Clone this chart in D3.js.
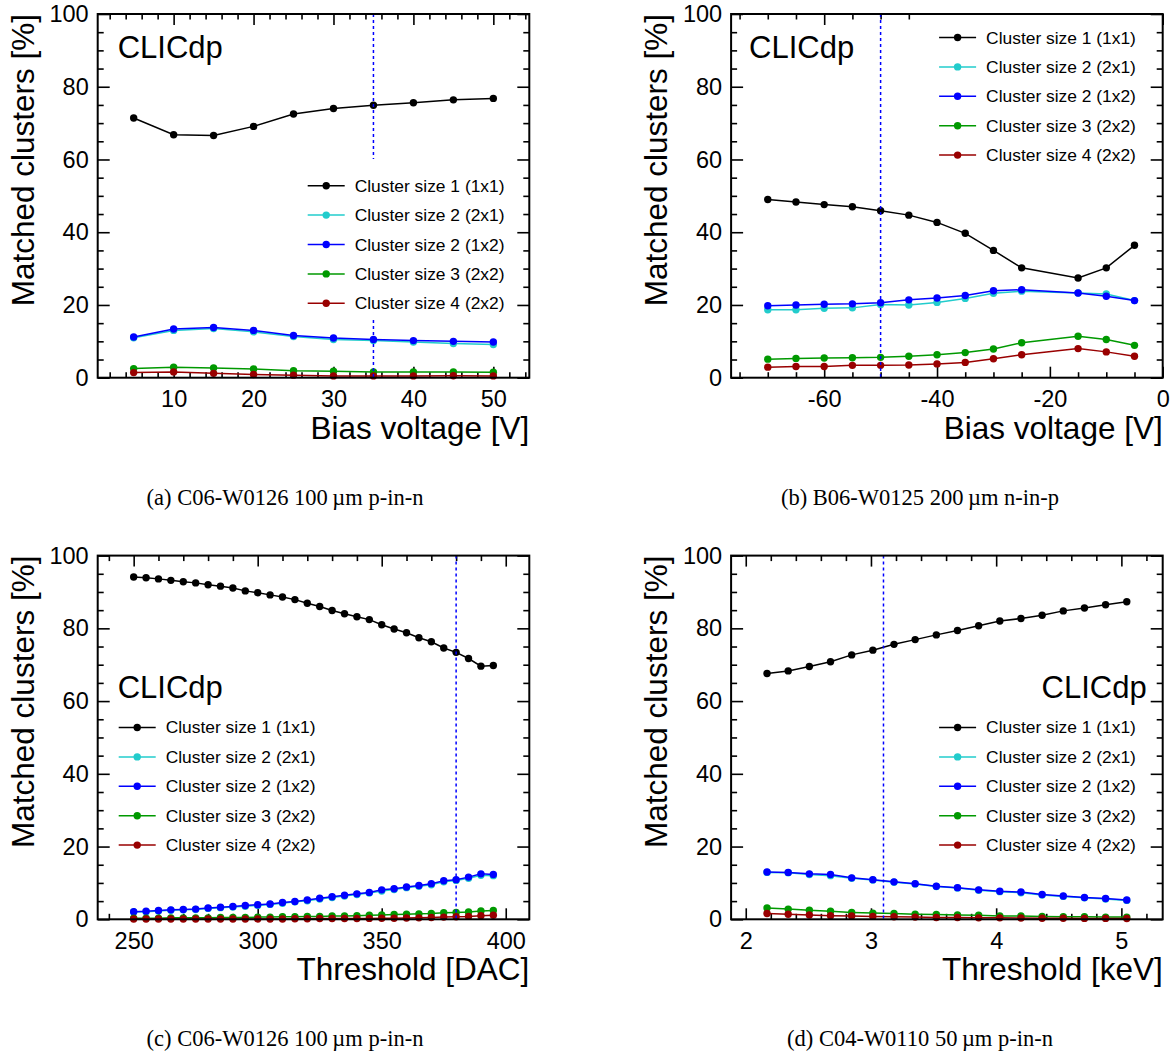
<!DOCTYPE html>
<html>
<head>
<meta charset="utf-8">
<script src="https://cdn.jsdelivr.net/npm/d3@7/dist/d3.min.js"></script>
<style>
  body { margin: 0; background: #fff; }
  svg { display: block; }
</style>
</head>
<body>
<svg id="fig" width="1174" height="1055"></svg>
<script>
// ---- series definitions shared by all four panels ----
const seriesNames = ["Cluster size 1 (1x1)", "Cluster size 2 (2x1)", "Cluster size 2 (1x2)",
                     "Cluster size 3 (2x2)", "Cluster size 4 (2x2)"];
const seriesColors = ["#000000", "#22cccc", "#0000ff", "#009900", "#990000"];

// ---- (a) C06-W0126, bias scan ----
const biasA = [5, 10, 15, 20, 25, 30, 35, 40, 45, 50];
const aSize1   = [71.4, 66.8, 66.6, 69.1, 72.5, 74.0, 74.9, 75.6, 76.4, 76.8];
const aSize2x1 = [11.0, 13.0, 13.5, 12.6, 11.3, 10.5, 10.2, 9.8, 9.4, 9.1];
const aSize1x2 = [11.2, 13.4, 13.8, 13.0, 11.6, 10.9, 10.5, 10.2, 10.0, 9.8];
const aSize3   = [2.5, 2.9, 2.7, 2.4, 1.9, 1.8, 1.6, 1.6, 1.6, 1.5];
const aSize4   = [1.4, 1.6, 1.2, 0.9, 0.7, 0.5, 0.5, 0.5, 0.55, 0.5];
const ticksA = [10, 20, 30, 40, 50];

// ---- (b) B06-W0125, bias scan ----
const biasB = [-70, -65, -60, -55, -50, -45, -40, -35, -30, -25, -15, -10, -5];
const bSize1   = [49.0, 48.3, 47.6, 47.0, 45.9, 44.7, 42.7, 39.7, 35.0, 30.2, 27.4, 30.2, 36.4];
const bSize2x1 = [18.7, 18.7, 19.1, 19.2, 20.1, 20.0, 20.7, 21.8, 23.2, 23.8, 23.3, 23.0, 21.2];
const bSize1x2 = [19.8, 20.0, 20.2, 20.3, 20.6, 21.4, 21.9, 22.6, 23.9, 24.2, 23.3, 22.4, 21.2];
const bSize3   = [5.1, 5.3, 5.4, 5.5, 5.6, 5.9, 6.3, 6.9, 7.9, 9.6, 11.4, 10.5, 8.9];
const bSize4   = [2.9, 3.1, 3.1, 3.4, 3.4, 3.5, 3.8, 4.2, 5.2, 6.3, 8.0, 7.1, 5.9];
const ticksB = [-60, -40, -20, 0];

// ---- (c) C06-W0126, threshold scan in DAC ----
const dacC = [250, 255, 260, 265, 270, 275, 280, 285, 290, 295, 300, 305, 310, 315, 320,
              325, 330, 335, 340, 345, 350, 355, 360, 365, 370, 375, 380, 385, 390, 395];
const cSize1   = [94.1, 93.9, 93.6, 93.2, 92.8, 92.5, 92.0, 91.6, 91.1, 90.3, 89.8, 89.2, 88.6, 87.9, 86.9,
                  86.0, 84.9, 84.0, 83.2, 82.4, 81.0, 79.8, 78.8, 77.4, 76.3, 74.6, 73.4, 71.7, 69.6, 69.8];
const cSize2x1 = [2.0, 2.1, 2.3, 2.5, 2.6, 2.7, 3.0, 3.2, 3.4, 3.6, 3.8, 4.1, 4.4, 4.8, 5.1,
                  5.6, 6.0, 6.4, 6.8, 7.2, 7.8, 8.2, 8.7, 9.1, 9.5, 10.3, 10.7, 11.3, 12.1, 12.0];
const cSize1x2 = [2.1, 2.2, 2.4, 2.6, 2.7, 2.8, 3.1, 3.3, 3.5, 3.8, 4.0, 4.2, 4.6, 4.9, 5.3,
                  5.8, 6.2, 6.6, 7.0, 7.4, 8.1, 8.4, 8.9, 9.3, 9.8, 10.6, 10.9, 11.6, 12.5, 12.3];
const cSize3   = [0.3, 0.3, 0.3, 0.4, 0.4, 0.4, 0.4, 0.5, 0.5, 0.5, 0.6, 0.6, 0.7, 0.7, 0.8,
                  0.8, 0.9, 0.9, 1.0, 1.1, 1.2, 1.3, 1.4, 1.5, 1.6, 1.8, 1.9, 2.0, 2.3, 2.4];
const cSize4   = [0.1, 0.1, 0.1, 0.1, 0.1, 0.1, 0.1, 0.1, 0.1, 0.1, 0.1, 0.1, 0.1, 0.15, 0.15,
                  0.2, 0.2, 0.2, 0.2, 0.25, 0.3, 0.3, 0.35, 0.4, 0.5, 0.6, 0.7, 0.8, 1.0, 1.1];
const ticksC = [250, 300, 350, 400];

// ---- (d) C04-W0110, threshold scan in keV ----
const keVD = [2.170, 2.339, 2.508, 2.677, 2.846, 3.015, 3.184, 3.353, 3.522,
              3.691, 3.860, 4.029, 4.198, 4.367, 4.536, 4.705, 4.874, 5.043];
const dSize1   = [67.6, 68.3, 69.5, 70.8, 72.7, 74.0, 75.6, 76.9, 78.2,
                  79.4, 80.7, 82.0, 82.7, 83.6, 84.8, 85.6, 86.5, 87.3];
const dSize2x1 = [12.9, 12.8, 12.3, 12.0, 11.3, 10.8, 10.2, 9.7, 9.0,
                  8.6, 8.0, 7.6, 7.3, 6.7, 6.3, 5.9, 5.6, 5.2];
const dSize1x2 = [13.0, 12.9, 12.5, 12.3, 11.4, 10.9, 10.3, 9.8, 9.1,
                  8.7, 8.1, 7.7, 7.5, 6.8, 6.4, 6.0, 5.7, 5.3];
const dSize3   = [3.1, 2.8, 2.5, 2.2, 1.9, 1.7, 1.6, 1.4, 1.3,
                  1.2, 1.1, 0.9, 0.9, 0.8, 0.7, 0.7, 0.6, 0.6];
const dSize4   = [1.6, 1.4, 1.2, 1.0, 0.9, 0.8, 0.7, 0.6, 0.5,
                  0.5, 0.4, 0.4, 0.35, 0.3, 0.3, 0.25, 0.25, 0.2];
const ticksD = [2, 3, 4, 5];

const yTicks = [0, 20, 40, 60, 80, 100];

// ---- panel layout ----
const FW = 431.6, FH = 363.7;
const panels = [
  { left: 97.7, top: 14, x: biasA, ys: [aSize1, aSize2x1, aSize1x2, aSize3, aSize4],
    domain: [0.5, 54.5], major: ticksA, minorStep: 2, cut: 35,
    xTitle: "Bias voltage [V]", caption: "(a) C06-W0126 100\u2009\u00b5m p-in-n", capX: 285,
    leg: { dx: 210, y0: 185.7 }, clic: { dx: 20, dy: 44, anchor: "start" } },
  { left: 731.1, top: 14, x: biasB, ys: [bSize1, bSize2x1, bSize1x2, bSize3, bSize4],
    domain: [-76.5, 0], major: ticksB, minorStep: 5, cut: -50,
    xTitle: "Bias voltage [V]", caption: "(b) B06-W0125 200\u2009\u00b5m n-in-p", capX: 920,
    leg: { dx: 208, y0: 37.5 }, clic: { dx: 18, dy: 44, anchor: "start" } },
  { left: 97.7, top: 555.6, x: dacC, ys: [cSize1, cSize2x1, cSize1x2, cSize3, cSize4],
    domain: [235.5, 409.5], major: ticksC, minorStep: 10, cut: 380,
    xTitle: "Threshold [DAC]", caption: "(c) C06-W0126 100\u2009\u00b5m p-in-n", capX: 285,
    leg: { dx: 21, y0: 727.5 }, clic: { dx: 20, dy: 142, anchor: "start" } },
  { left: 731.1, top: 555.6, x: keVD, ys: [dSize1, dSize2x1, dSize1x2, dSize3, dSize4],
    domain: [1.883, 5.330], major: ticksD, minorStep: 0.2, cut: 3.1,
    xTitle: "Threshold [keV]", caption: "(d) C04-W0110 50\u2009\u00b5m p-in-n", capX: 920,
    leg: { dx: 208, y0: 727.5 }, clic: { dx: FW - 16, dy: 142, anchor: "end" } }
];

const SANS = "'Liberation Sans', Arial, Helvetica, sans-serif";
const SERIF = "'Liberation Serif', 'Times New Roman', serif";
const svg = d3.select("#fig");

panels.forEach(p => {
  const g = svg.append("g").attr("transform", `translate(${p.left},${p.top})`);
  const x = d3.scaleLinear().domain(p.domain).range([0, FW]);
  const y = d3.scaleLinear().domain([0, 100]).range([FH, 0]);

  // minor tick positions between the domain ends
  const minorX = d3.range(Math.ceil(p.domain[0] / p.minorStep - 1e-6) * p.minorStep,
                          p.domain[1] + 1e-6, p.minorStep)
                   .map(v => +v.toFixed(4))
                   .filter(v => !p.major.some(m => Math.abs(m - v) < 1e-6));
  const minorY = d3.range(5, 100, 5).filter(v => v % 20 !== 0);

  const styleAxis = sel => {
    sel.select(".domain").remove();
    sel.selectAll(".tick line").attr("stroke", "#000").attr("stroke-width", 1.6);
  };
  const fmt = d => String(d);

  // bottom axis with labels, top axis ticks only
  g.append("g").attr("transform", `translate(0,${FH})`)
    .call(d3.axisBottom(x).tickValues(p.major).tickSize(-11).tickPadding(13).tickFormat(fmt))
    .call(styleAxis)
    .call(s => s.selectAll("text").attr("font-family", SANS).attr("font-size", 23.5).attr("fill", "#000"));
  g.append("g").attr("transform", `translate(0,${FH})`)
    .call(d3.axisBottom(x).tickValues(minorX).tickSize(-5.5).tickFormat(""))
    .call(styleAxis);
  g.append("g")
    .call(d3.axisTop(x).tickValues(p.major).tickSize(-11).tickFormat(""))
    .call(styleAxis);
  g.append("g")
    .call(d3.axisTop(x).tickValues(minorX).tickSize(-5.5).tickFormat(""))
    .call(styleAxis);

  // left axis with labels, right axis ticks only
  g.append("g")
    .call(d3.axisLeft(y).tickValues(yTicks).tickSize(-12).tickPadding(9).tickFormat(fmt))
    .call(styleAxis)
    .call(s => s.selectAll("text").attr("font-family", SANS).attr("font-size", 23.5).attr("fill", "#000"));
  g.append("g")
    .call(d3.axisLeft(y).tickValues(minorY).tickSize(-6).tickFormat(""))
    .call(styleAxis);
  g.append("g").attr("transform", `translate(${FW},0)`)
    .call(d3.axisRight(y).tickValues(yTicks).tickSize(-12).tickFormat(""))
    .call(styleAxis);
  g.append("g").attr("transform", `translate(${FW},0)`)
    .call(d3.axisRight(y).tickValues(minorY).tickSize(-6).tickFormat(""))
    .call(styleAxis);

  // data series: lines with filled circle markers
  const line = d3.line().x(d => x(d[0])).y(d => y(d[1]));
  p.ys.forEach((vals, i) => {
    const pts = p.x.map((xv, k) => [xv, vals[k]]);
    g.append("path").datum(pts)
      .attr("d", line).attr("fill", "none")
      .attr("stroke", seriesColors[i]).attr("stroke-width", 1.5);
    g.append("g").selectAll("circle").data(pts).join("circle")
      .attr("cx", d => x(d[0])).attr("cy", d => y(d[1])).attr("r", 3.7)
      .attr("fill", seriesColors[i]);
  });

  // operating point marker
  g.append("line")
    .attr("x1", x(p.cut)).attr("x2", x(p.cut)).attr("y1", 0).attr("y2", FH)
    .attr("stroke", "#0000ff").attr("stroke-width", 1.5).attr("stroke-dasharray", "3,3");

  // legend box (white fill)
  const ly0 = p.leg.y0 - p.top;
  const step = 29.4;
  g.append("rect")
    .attr("x", p.leg.dx - 6).attr("y", ly0 - 26.7)
    .attr("width", 214).attr("height", 4 * step + 42.4)
    .attr("fill", "#fff");
  seriesNames.forEach((name, i) => {
    const ly = ly0 + i * step;
    g.append("line")
      .attr("x1", p.leg.dx).attr("x2", p.leg.dx + 37).attr("y1", ly).attr("y2", ly)
      .attr("stroke", seriesColors[i]).attr("stroke-width", 1.5);
    g.append("circle").attr("cx", p.leg.dx + 18.5).attr("cy", ly).attr("r", 3.7)
      .attr("fill", seriesColors[i]);
    g.append("text").attr("x", p.leg.dx + 47).attr("y", ly + 6)
      .attr("font-family", SANS).attr("font-size", 17.4).attr("fill", "#000")
      .text(name);
  });

  // frame
  g.append("rect").attr("width", FW).attr("height", FH)
    .attr("fill", "none").attr("stroke", "#000").attr("stroke-width", 2);

  // experiment label
  g.append("text").attr("x", p.clic.dx).attr("y", p.clic.dy)
    .attr("text-anchor", p.clic.anchor)
    .attr("font-family", SANS).attr("font-size", 31).attr("fill", "#000")
    .text("CLICdp");

  // axis titles
  g.append("text").attr("x", FW).attr("y", FH + 61)
    .attr("text-anchor", "end")
    .attr("font-family", SANS).attr("font-size", 31.5).attr("fill", "#000")
    .text(p.xTitle);
  g.append("text")
    .attr("transform", `translate(-64,0) rotate(-90)`)
    .attr("text-anchor", "end")
    .attr("font-family", SANS).attr("font-size", 31.5).attr("fill", "#000")
    .text("Matched clusters [%]");

  // sub-figure caption
  svg.append("text").attr("x", p.capX).attr("y", p.top + FH + 127)
    .attr("text-anchor", "middle")
    .attr("font-family", SERIF).attr("font-size", 22.5).attr("fill", "#000")
    .text(p.caption);
});
</script>
</body>
</html>
